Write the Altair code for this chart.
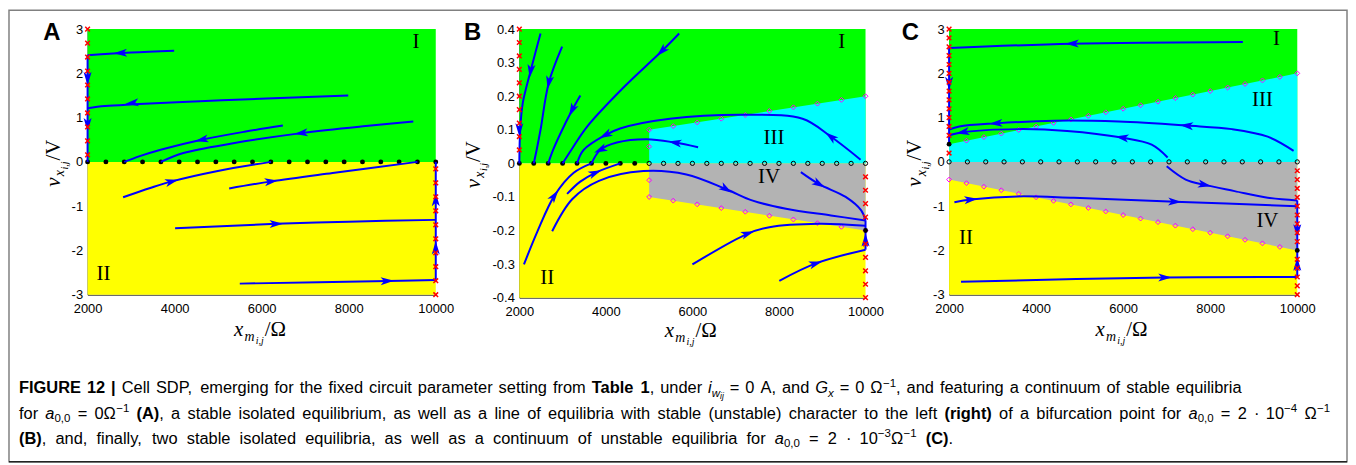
import math
import re
import altair as alt
import pandas as pd

# ------------------------------------------------------------------ data
X_TICKS = [2000, 4000, 6000, 8000, 10000]

# ---- Panel A ----
A_Y_TICKS = [-3, -2, -1, 0, 1, 2, 3]
A_EQ_X = [2000, 2421, 2842, 3263, 3684, 4105, 4526, 4947, 5368, 5789,
          6211, 6632, 7053, 7474, 7895, 8316, 8737, 9158, 9579, 10000]
A_CROSS_LEFT_Y = [3.0, 2.684, 2.368, 2.053, 1.737, 1.421, 1.105, 0.789, 0.474, 0.158]
A_CROSS_RIGHT_Y = [-0.158, -0.474, -0.789, -1.105, -1.421, -1.737, -2.053, -2.368, -2.684, -3.0]
A_TRAJ_X = [
    [3989, 3000, 2000],
    [2000, 2000],
    [7989, 6107, 4583, 3059, 2400, 2000],
    [6487, 5600, 4621, 3700, 3200, 2842],
    [9484, 8393, 6907, 5344, 4201, 3684],
    [2816, 3440, 3936, 4964, 6211],
    [5253, 6221, 7630, 9579],
    [4011, 6335, 8000, 10000],
    [5497, 8887, 10000],
    [10000, 10000],
]
A_TRAJ_Y = [
    [2.51, 2.47, 2.41],
    [2.41, 0.0],
    [1.50, 1.43, 1.37, 1.30, 1.26, 1.21],
    [0.82, 0.68, 0.50, 0.28, 0.13, 0.0],
    [0.91, 0.81, 0.65, 0.42, 0.20, 0.0],
    [-0.80, -0.59, -0.44, -0.21, 0.0],
    [-0.60, -0.44, -0.25, 0.0],
    [-1.50, -1.40, -1.35, -1.31],
    [-2.75, -2.69, -2.67],
    [-2.67, 0.0],
]
# arrow position and a point further along the trajectory (direction)
A_ARROWS = [
    (2754, 2.46, 2500, 2.45), (2000, 1.88, 2000, 1.5), (2000, 0.84, 2000, 0.5),
    (3021, 1.33, 2700, 1.29), (4621, 0.50, 4300, 0.43), (6907, 0.65, 6500, 0.60),
    (3936, -0.44, 4200, -0.37), (6221, -0.44, 6600, -0.39), (6335, -1.40, 6800, -1.39),
    (8887, -2.69, 9300, -2.68), (10000, -0.85, 10000, -0.5), (10000, -1.94, 10000, -1.6),
]
A_LABELS = [("I", 9543, 2.7), ("II", 2366, -2.53)]

# ---- Panel B ----
B_Y_TICKS = [-0.4, -0.3, -0.2, -0.1, 0, 0.1, 0.2, 0.3, 0.4]
B_EQ_FILLED_X = [2000, 2333, 2667, 3000, 3333, 3667, 4000, 4333, 4667]
B_EQ_OPEN_X = [5000, 5333, 5667, 6000, 6333, 6667, 7000, 7333, 7667, 8000,
               8333, 8667, 9000, 9333, 9667, 10000]
B_DIAMOND_X = [5000, 5000, 5556, 6111, 6667, 7222, 7778, 8333, 8889, 9444, 10000]
B_DIAMOND_UP_Y = [0.05, 0.1, 0.111, 0.122, 0.133, 0.144, 0.156, 0.167, 0.178, 0.189, 0.2]
B_DIAMOND_LO_Y = [-0.05, -0.1, -0.111, -0.122, -0.133, -0.144, -0.156, -0.167, -0.178, -0.189, -0.2]
B_CROSS_LEFT_Y = [0.4, 0.36, 0.32, 0.28, 0.24, 0.2, 0.16, 0.12, 0.08, 0.04]
B_CROSS_RIGHT_Y = [-0.04, -0.08, -0.12, -0.16, -0.24, -0.28, -0.32, -0.36, -0.4]
B_STABLE_X = [10000]
B_STABLE_Y = [-0.2]
B_TRAJ_X = [
    [2490, 2260, 2080, 2020, 2000],
    [2989, 2682, 2490, 2400, 2333],
    [3410, 3218, 2950, 2780, 2667],
    [5694, 5288, 4407, 3563, 3200, 3000],
    [9886, 9196, 8545, 7242, 5479, 4329, 3985, 3487, 3333],
    [6131, 5594, 4943, 4253, 3869, 3667],
    [2107, 2414, 2812, 3257, 3667],
    [3104, 3400, 3755, 4333],
    [2759, 3226, 3839, 4866, 5860, 6782, 7395, 8162, 9200, 10000],
    [8506, 8928, 9541, 9900, 10000],
    [6000, 7281, 7778, 8928, 10000],
    [8008, 8851, 10000],
    [10000, 10000],
    [10000, 10000],
]
B_TRAJ_Y = [
    [0.387, 0.275, 0.18, 0.10, 0.0],
    [0.348, 0.241, 0.10, 0.04, 0.0],
    [0.202, 0.158, 0.089, 0.04, 0.0],
    [0.387, 0.334, 0.226, 0.109, 0.04, 0.0],
    [0.011, 0.080, 0.133, 0.145, 0.133, 0.104, 0.084, 0.040, 0.0],
    [0.048, 0.062, 0.072, 0.062, 0.040, 0.0],
    [-0.301, -0.204, -0.096, -0.028, 0.0],
    [-0.091, -0.055, -0.028, 0.0],
    [-0.202, -0.106, -0.052, -0.023, -0.033, -0.077, -0.111, -0.135, -0.155, -0.170],
    [-0.026, -0.062, -0.10, -0.14, -0.17],
    [-0.301, -0.209, -0.19, -0.18, -0.186],
    [-0.350, -0.298, -0.257],
    [-0.17, -0.2],
    [-0.257, -0.2],
]
B_ARROWS = [
    (2260, 0.275, 2200, 0.22), (2000, 0.10, 2000, 0.07), (2682, 0.241, 2620, 0.2),
    (3218, 0.158, 3130, 0.135), (5288, 0.334, 5100, 0.31), (9196, 0.080, 9000, 0.10),
    (3985, 0.084, 3800, 0.072), (5594, 0.062, 5400, 0.066), (3869, 0.040, 3700, 0.030),
    (2812, -0.096, 2900, -0.08), (3755, -0.028, 3900, -0.02), (6782, -0.077, 7000, -0.094),
    (8928, -0.062, 9100, -0.075), (7281, -0.209, 7500, -0.199), (8851, -0.298, 9100, -0.288),
    (10000, -0.228, 10000, -0.21),
]
B_LABELS = [("I", 9448, 0.36), ("III", 7885, 0.075), ("IV", 7770, -0.042), ("II", 2644, -0.341)]

# ---- Panel C ----
C_Y_TICKS = [-3, -2, -1, 0, 1, 2, 3]
C_EQ_OPEN_X = [2000, 2421, 2842, 3263, 3684, 4105, 4526, 4947, 5368, 5789,
               6211, 6632, 7053, 7474, 7895, 8316, 8737, 9158, 9579, 10000]
C_DIAMOND_UP_X = [2400, 2800, 3200, 3600, 4000, 4400, 4800, 5200, 5600, 6000,
                  6400, 6800, 7200, 7600, 8000, 8400, 8800, 9200, 9600, 10000]
C_DIAMOND_UP_Y = [0.48, 0.56, 0.64, 0.72, 0.8, 0.88, 0.96, 1.04, 1.12, 1.2,
                  1.28, 1.36, 1.44, 1.52, 1.6, 1.68, 1.76, 1.84, 1.92, 2.0]
C_DIAMOND_LO_X = [2000, 2400, 2800, 3200, 3600, 4000, 4400, 4800, 5200, 5600,
                  6000, 6400, 6800, 7200, 7600, 8000, 8400, 8800, 9200, 9600]
C_DIAMOND_LO_Y = [-0.4, -0.48, -0.56, -0.64, -0.72, -0.8, -0.88, -0.96, -1.04, -1.12,
                  -1.2, -1.28, -1.36, -1.44, -1.52, -1.6, -1.68, -1.76, -1.84, -1.92]
C_CROSS_LEFT_Y = [3.0, 2.8, 2.6, 2.4, 2.2, 2.0, 1.8, 1.6, 1.4, 1.2, 1.0, 0.8, 0.6, 0.2]
C_CROSS_RIGHT_Y = [-0.2, -0.4, -0.6, -0.8, -1.0, -1.2, -1.4, -1.6, -1.8, -2.2, -2.4, -2.6, -2.8, -3.0]
C_STABLE_X = [2000, 10000]
C_STABLE_Y = [0.4, -2.0]
C_TRAJ_X = [
    [8750, 4827, 2000],
    [2000, 2000],
    [9916, 9321, 8500, 7455, 5893, 4423, 3074, 2236, 2000],
    [7021, 6655, 5970, 4712, 3570, 2313, 2000],
    [7000, 7436, 7874, 8560, 9321, 10000],
    [10000, 10000],
    [2122, 2503, 3570, 4864, 7188, 10000],
    [2274, 6960, 10000],
    [10000, 10000],
]
C_TRAJ_Y = [
    [2.71, 2.67, 2.57],
    [2.57, 0.4],
    [0.25, 0.57, 0.74, 0.82, 0.91, 0.93, 0.87, 0.80, 0.73],
    [0.10, 0.39, 0.55, 0.70, 0.74, 0.67, 0.60],
    [-0.10, -0.40, -0.52, -0.66, -0.81, -0.87],
    [-0.87, -2.0],
    [-0.91, -0.85, -0.78, -0.81, -0.90, -1.0],
    [-2.71, -2.61, -2.60],
    [-2.60, -2.0],
]
C_ARROWS = [
    (4827, 2.67, 4500, 2.665), (2000, 1.77, 2000, 1.5), (7455, 0.82, 7100, 0.85),
    (3074, 0.87, 2800, 0.85), (5970, 0.55, 5700, 0.59), (2313, 0.67, 2150, 0.64),
    (7874, -0.52, 8200, -0.59), (10000, -1.56, 10000, -1.8), (2503, -0.85, 2800, -0.82),
    (7188, -0.90, 7500, -0.91), (6960, -2.61, 7300, -2.608), (10000, -2.31, 10000, -2.1),
]
C_LABELS = [("I", 9520, 2.78), ("III", 9200, 1.40), ("IV", 9314, -1.34), ("II", 2389, -1.72)]

# ---- Axis titles (LaTeX-like pieces: text, role) ----
X_TITLE = [("x", "big_i"), ("m", "sub_i"), ("i,j", "subsub_i"), ("/Ω", "big")]
Y_TITLE = [("v", "big_i"), ("x", "sub_i"), ("i,j", "subsub_i"), ("/V", "big")]

# ---- Caption ----
CAPTION_LINE_1 = [("FIGURE 12 |", "b"), (" Cell SDP, emerging for the fixed circuit parameter setting from ", "r"),
                  ("Table 1", "b"), (", under ", "r"), ("i", "i"), ("w", "isub"), ("ij", "isubsub"),
                  (" = 0 A, and ", "r"), ("G", "i"), ("x", "isub"), (" = 0 Ω", "r"), ("−1", "sup"),
                  (", and featuring a continuum of stable equilibria", "r")]
CAPTION_LINE_2 = [("for ", "r"), ("a", "i"), ("0,0", "sub"), (" = 0Ω", "r"), ("−1", "sup"), (" ", "r"),
                  ("(A)", "b"),
                  (", a stable isolated equilibrium, as well as a line of equilibria with stable (unstable) character to the left ", "r"),
                  ("(right)", "b"), (" of a bifurcation point for ", "r"), ("a", "i"), ("0,0", "sub"),
                  (" = 2 · 10", "r"), ("−4", "sup"), (" Ω", "r"), ("−1", "sup")]
CAPTION_LINE_3 = [("(B)", "b"),
                  (", and, finally, two stable isolated equilibria, as well as a continuum of unstable equilibria for ", "r"),
                  ("a", "i"), ("0,0", "sub"), (" = 2 · 10", "r"), ("−3", "sup"), ("Ω", "r"), ("−1", "sup"),
                  (" ", "r"), ("(C)", "b"), (".", "r")]

# ------------------------------------------------------------------ styling
BLUE = "#0000ff"
GREEN = "#00ff00"
YELLOW = "#ffff00"
CYAN = "#00ffff"
GRAY = "#b3b3b3"
ARROW_PATH = "M1,0L-1,-0.6L-0.5,0L-1,0.6Z"
CROSS_PATH = "M-1,-1L1,1M-1,1L1,-1"
SANS = "Liberation Sans"
SERIF = "Liberation Serif, DejaVu Serif"

XSCALE = alt.Scale(domain=[2000, 10000], nice=False, zero=False)

# serif (Times metrics) widths for title pieces
SERIF_W = {"x": 444, "m": 722, "i": 278, ",": 250, "j": 278, "/": 278, "Ω": 768, "v": 444, "V": 722}
TITLE_ROLES = {  # size, italic, baseline shift
    "big_i": (21, "italic", 0), "big": (21, "normal", 0),
    "sub_i": (14, "italic", 4.5), "subsub_i": (10, "italic", 8),
}


def make_df(**cols):
    return pd.DataFrame(cols)


def title_layers(pieces, cx, cy, vertical):
    widths = [sum(SERIF_W.get(ch, 500) for ch in t) / 1000.0 * TITLE_ROLES[r][0] * 1.12 for t, r in pieces]
    total = sum(widths)
    out = []
    pos = -total / 2
    for (t, r), w in zip(pieces, widths):
        size, style, shift = TITLE_ROLES[r]
        if vertical:
            x, y, ang = cx + shift, cy - pos, 270
        else:
            x, y, ang = cx + pos, cy + shift, 0
        out.append(alt.Chart(make_df(k=[0]))
                   .mark_text(text=t, font=SERIF, fontSize=size, fontStyle=style, color="black",
                              align="left", baseline="alphabetic", angle=ang)
                   .encode(x=alt.value(x), y=alt.value(y)))
        pos += w
    return out


def panel(W, H, ydom, yticks, ylab_expr, ytitle_base, xtitle_base, letter, letter_dx,
          wedges, eq_filled, eq_open, diamonds, crosses, stable, tx, ty, arrows, labels):
    ys = alt.Scale(domain=ydom, nice=False, zero=False)
    xaxis = alt.Axis(values=X_TICKS, format="d", title=None, labelFlush=False, labelPadding=8)
    yaxis = alt.Axis(values=yticks, labelExpr=ylab_expr, title=None, labelFlush=False, labelPadding=5)

    def X(f="x"):
        return alt.X(f"{f}:Q", scale=XSCALE, axis=xaxis)

    def Y(f="y"):
        return alt.Y(f"{f}:Q", scale=ys, axis=yaxis)

    layers = []
    layers.append(alt.Chart(make_df(x=[2000], x2=[10000], y=[0], y2=[ydom[1]])).mark_rect(color=GREEN)
                  .encode(x=X(), x2="x2:Q", y=Y(), y2="y2:Q"))
    layers.append(alt.Chart(make_df(x=[2000], x2=[10000], y=[ydom[0]], y2=[0])).mark_rect(color=YELLOW)
                  .encode(x=X(), x2="x2:Q", y=Y(), y2="y2:Q"))
    for (wx, wy, col) in wedges:
        layers.append(alt.Chart(make_df(x=wx, y=wy, y0=[0] * len(wx))).mark_area(color=col, opacity=1)
                      .encode(x=X(), y=Y(), y2="y0:Q"))
    if eq_filled:
        layers.append(alt.Chart(make_df(x=eq_filled, y=[0] * len(eq_filled)))
                      .mark_point(shape="circle", filled=True, color="black", size=24, opacity=1)
                      .encode(x=X(), y=Y()))
    if eq_open:
        layers.append(alt.Chart(make_df(x=eq_open, y=[0] * len(eq_open)))
                      .mark_point(shape="circle", filled=False, color="black", size=18, strokeWidth=1, opacity=1)
                      .encode(x=X(), y=Y()))
    for (dx, dy) in diamonds:
        layers.append(alt.Chart(make_df(x=dx, y=dy))
                      .mark_point(shape="diamond", filled=False, color="#ff00ff", size=24, strokeWidth=1, opacity=1)
                      .encode(x=X(), y=Y()))
    rows = []
    for k, (xs_, ys_) in enumerate(zip(tx, ty)):
        for i, (a, b) in enumerate(zip(xs_, ys_)):
            rows.append({"id": k, "i": i, "x": a, "y": b})
    layers.append(alt.Chart(pd.DataFrame(rows))
                  .mark_line(color=BLUE, strokeWidth=2, interpolate="catmull-rom")
                  .encode(x=X(), y=Y(), detail="id:N", order="i:Q"))
    span = ydom[1] - ydom[0]
    arows = []
    for (ax, ay, bx, by) in arrows:
        sx = (bx - ax) * W / 8000.0
        sy = -(by - ay) * H / span
        arows.append({"x": ax, "y": ay, "ang": math.degrees(math.atan2(sy, sx)) % 360})
    layers.append(alt.Chart(pd.DataFrame(arows))
                  .mark_point(shape=ARROW_PATH, filled=True, color=BLUE, size=180, opacity=1, strokeWidth=0)
                  .encode(x=X(), y=Y(), angle=alt.Angle("ang:Q", scale=None)))
    for (cx, cy) in crosses:
        layers.append(alt.Chart(make_df(x=cx, y=cy))
                      .mark_point(shape=CROSS_PATH, filled=False, color="#ff0000", size=22, strokeWidth=1.5, opacity=1)
                      .encode(x=X(), y=Y()))
    if stable:
        layers.append(alt.Chart(make_df(x=stable[0], y=stable[1]))
                      .mark_point(shape="circle", filled=True, color="black", size=24, opacity=1)
                      .encode(x=X(), y=Y()))
    layers.append(alt.Chart(pd.DataFrame([{"t": t, "x": a, "y": b} for (t, a, b) in labels]))
                  .mark_text(font=SERIF, fontSize=21, color="black")
                  .encode(x=X(), y=Y(), text="t:N"))
    layers.append(alt.Chart(make_df(k=[0]))
                  .mark_text(text=letter, font=SANS, fontSize=24, fontWeight="bold", color="black",
                             align="center", baseline="middle")
                  .encode(x=alt.value(letter_dx), y=alt.value(4)))
    layers += title_layers(X_TITLE, W / 2, H + xtitle_base, False)
    layers += title_layers(Y_TITLE, ytitle_base, H / 2, True)
    return layers, X, Y


AW, AH = 350, 267
A_layers, AX, AY = panel(
    AW, AH, [-3, 3], A_Y_TICKS, "replace(format(datum.value, 'd'), '\u2212', '-')", -28, 42, "A", -36,
    [], A_EQ_X, None, [],
    [([2000] * len(A_CROSS_LEFT_Y), A_CROSS_LEFT_Y), ([10000] * len(A_CROSS_RIGHT_Y), A_CROSS_RIGHT_Y)],
    None, A_TRAJ_X, A_TRAJ_Y, A_ARROWS, A_LABELS)

BW, BH = 348, 270
B_layers, _, _ = panel(
    BW, BH, [-0.4, 0.4], B_Y_TICKS,
    "datum.value == 0 ? '0' : replace(format(datum.value, '.1f'), '\u2212', '-')", -40, 40, "B", -47,
    [([5000, 10000], [0.1, 0.2], CYAN), ([5000, 10000], [-0.1, -0.2], GRAY)],
    B_EQ_FILLED_X, B_EQ_OPEN_X,
    [(B_DIAMOND_X, B_DIAMOND_UP_Y), (B_DIAMOND_X, B_DIAMOND_LO_Y)],
    [([2000] * len(B_CROSS_LEFT_Y), B_CROSS_LEFT_Y), ([10000] * len(B_CROSS_RIGHT_Y), B_CROSS_RIGHT_Y)],
    (B_STABLE_X, B_STABLE_Y), B_TRAJ_X, B_TRAJ_Y, B_ARROWS, B_LABELS)

CW, CH = 350, 267
C_layers, _, _ = panel(
    CW, CH, [-3, 3], C_Y_TICKS, "replace(format(datum.value, 'd'), '\u2212', '-')", -28, 42, "C", -39,
    [([2000, 10000], [0.4, 2.0], CYAN), ([2000, 10000], [-0.4, -2.0], GRAY)],
    None, C_EQ_OPEN_X,
    [(C_DIAMOND_UP_X, C_DIAMOND_UP_Y), (C_DIAMOND_LO_X, C_DIAMOND_LO_Y)],
    [([2000] * len(C_CROSS_LEFT_Y), C_CROSS_LEFT_Y), ([10000] * len(C_CROSS_RIGHT_Y), C_CROSS_RIGHT_Y)],
    (C_STABLE_X, C_STABLE_Y), C_TRAJ_X, C_TRAJ_Y, C_ARROWS, C_LABELS)

# ---- Caption layout (placed in panel A coordinates) ----
AR = {" ": 278, ",": 278, ".": 278, "(": 333, ")": 333, "|": 260, "=": 584, "·": 278, "−": 584, "Ω": 768}
for d in "0123456789":
    AR[d] = 556
AR.update(dict(A=667, B=667, C=722, D=722, E=667, F=611, G=778, H=722, I=278, J=500, K=667, L=556,
               M=833, N=722, O=778, P=667, Q=778, R=722, S=667, T=611, U=722, V=667, W=944, X=667,
               Y=667, Z=611))
AR.update(dict(a=556, b=556, c=500, d=556, e=556, f=278, g=556, h=556, i=222, j=222, k=500, l=222,
               m=833, n=556, o=556, p=556, q=556, r=333, s=500, t=278, u=556, v=500, w=722, x=500,
               y=500, z=500))
AB = dict(AR)
AB.update(dict(A=722, B=722, C=722, F=611, G=778, I=278, R=722, T=611, U=722, E=667,
               a=556, b=611, e=556, g=611, h=611, i=278, l=278, r=389, t=333))
AB["|"] = 280

FS = 16.5
STYLES = {
    "r": (FS, "normal", "normal", 0),
    "b": (FS, "bold", "normal", 0),
    "i": (FS, "normal", "italic", 0),
    "sub": (FS * 0.7, "normal", "normal", 3.5),
    "isub": (FS * 0.7, "normal", "italic", 3.5),
    "isubsub": (FS * 0.52, "normal", "italic", 6),
    "sup": (FS * 0.7, "normal", "normal", -6.5),
}


def tw(s, style):
    size, weight = STYLES[style][0], STYLES[style][1]
    tab = AB if weight == "bold" else AR
    return sum(tab.get(ch, 556) for ch in s) / 1000.0 * size


PLOT_LEFT, PLOT_TOP = 87, 27
lines = [CAPTION_LINE_1, CAPTION_LINE_2, CAPTION_LINE_3]
line_start = 18
line_end = [1247, 1336, 957]
line_base = [393, 418.5, 444]
words = {k: [] for k in STYLES}
for li, segs in enumerate(lines):
    atoms = []
    for text, st in segs:
        for tok in re.findall(r"\s+|\S+", text):
            atoms.append((tok, st))
    natural = sum(tw(t, s) for t, s in atoms)
    gaps = sum(1 for t, s in atoms if t.isspace())
    extra = (line_end[li] - line_start - natural) / max(gaps, 1)
    xc = line_start
    for t, s in atoms:
        w = tw(t, s)
        if t.isspace():
            xc += w + extra
        else:
            px = xc - PLOT_LEFT
            py = line_base[li] + STYLES[s][3] - PLOT_TOP
            words[s].append({"t": t, "x": 2000 + px * 8000.0 / AW, "y": 3 - py * 6.0 / AH})
            xc += w

caption_layers = []
for st, rows in words.items():
    if not rows:
        continue
    size, weight, fstyle, _ = STYLES[st]
    caption_layers.append(
        alt.Chart(pd.DataFrame(rows))
        .mark_text(font=SANS, fontSize=size, fontWeight=weight, fontStyle=fstyle, color="black",
                   align="left", baseline="alphabetic")
        .encode(x=AX(), y=AY(), text="t:N"))

frame = [
    alt.Chart(make_df(k=[0])).mark_rect(fillOpacity=0, stroke="#808080", strokeWidth=1.5)
    .encode(x=alt.value(-79), x2=alt.value(1266), y=alt.value(-19), y2=alt.value(435)),
    alt.Chart(make_df(k=[0])).mark_rule(color="#222222", strokeWidth=1.5)
    .encode(x=alt.value(-79), x2=alt.value(1266), y=alt.value(435)),
]

chartA = alt.layer(*(A_layers + caption_layers + frame)).properties(width=AW, height=AH)
chartB = alt.layer(*B_layers).properties(width=BW, height=BH)
chartC = alt.layer(*C_layers).properties(width=CW, height=CH)

chart = (
    alt.hconcat(chartA, chartB, chartC, spacing=84, bounds="flush")
    .properties(padding=0, background="white")
    .configure_view(stroke=None)
    .configure_axis(labelFont=SANS, labelFontSize=13, labelColor="black",
                    domainColor="#262626", domainWidth=1, ticks=False, tickSize=0, grid=False)
)

chart.save("out.html", embed_options={"renderer": "svg", "actions": False})
